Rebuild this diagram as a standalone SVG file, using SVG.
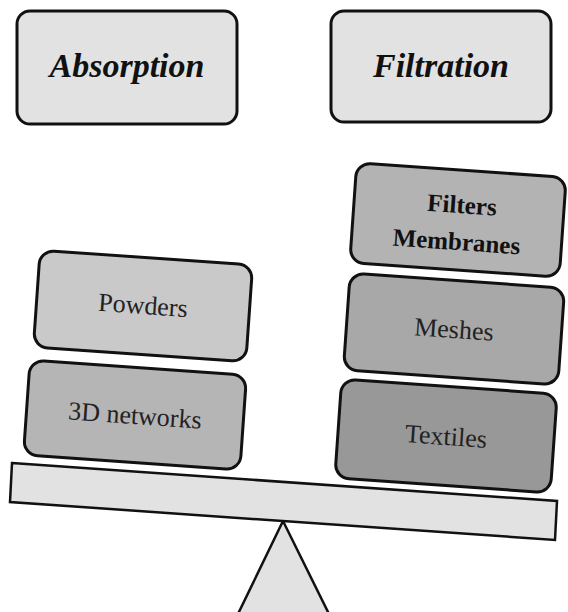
<svg xmlns="http://www.w3.org/2000/svg" width="568" height="612" viewBox="0 0 568 612">
  <style>
    .box { stroke: #111; stroke-width: 3; }
    text { font-family: 'Liberation Serif', Tinos, 'Times New Roman', Times, 'DejaVu Serif', serif; text-anchor: middle; }
    .title { font-size: 34px; font-weight: bold; font-style: italic; fill: #111; }
    .label { font-size: 26px; fill: #222; }
    .label-bold { font-size: 25px; font-weight: bold; fill: #111; }
    .light { fill: #e2e2e2; }
  </style>
  <rect width="568" height="612" fill="#ffffff"/>

  <!-- category headers -->
  <g id="absorption">
    <rect class="box light" x="17" y="11" width="220" height="113" rx="13"/>
    <text class="title" x="127" y="77">Absorption</text>
  </g>
  <g id="filtration">
    <rect class="box light" x="331" y="11" width="220" height="111" rx="13"/>
    <text class="title" x="441" y="77">Filtration</text>
  </g>

  <!-- scale: fulcrum and tilted beam -->
  <g id="fulcrum">
    <polygon class="light" points="283,521 237,616 330,616" stroke="#111" stroke-width="2.5"/>
  </g>
  <g id="beam">
    <polygon class="light" points="12,463 557,501 555,540 10,502" stroke="#111" stroke-width="2.5"/>
  </g>

  <!-- left pan -->
  <g id="powders" transform="translate(143,306) rotate(4)">
    <rect class="box" x="-106.5" y="-48.5" width="213" height="97" rx="14" fill="#c9c9c9"/>
    <text class="label" x="0" y="8">Powders</text>
  </g>
  <g id="networks-3d" transform="translate(135,415) rotate(4)">
    <rect class="box" x="-108.5" y="-47.5" width="217" height="95" rx="14" fill="#b5b5b5"/>
    <text class="label" x="0" y="9">3D networks</text>
  </g>

  <!-- right pan -->
  <g id="filters-membranes" transform="translate(458,220) rotate(4)">
    <rect class="box" x="-105" y="-50" width="210" height="100" rx="14" fill="#b3b3b3"/>
    <text class="label-bold" x="3" y="-7">Filters</text>
    <text class="label-bold" x="0" y="30">Membranes</text>
  </g>
  <g id="meshes" transform="translate(454,329) rotate(4)">
    <rect class="box" x="-107.5" y="-48.5" width="215" height="97" rx="14" fill="#a8a8a8"/>
    <text class="label" x="0" y="9">Meshes</text>
  </g>
  <g id="textiles" transform="translate(446,436) rotate(4)">
    <rect class="box" x="-108" y="-49.5" width="216" height="99" rx="14" fill="#989898"/>
    <text class="label" x="0" y="9">Textiles</text>
  </g>

  <g id="connectors"/>
</svg>
